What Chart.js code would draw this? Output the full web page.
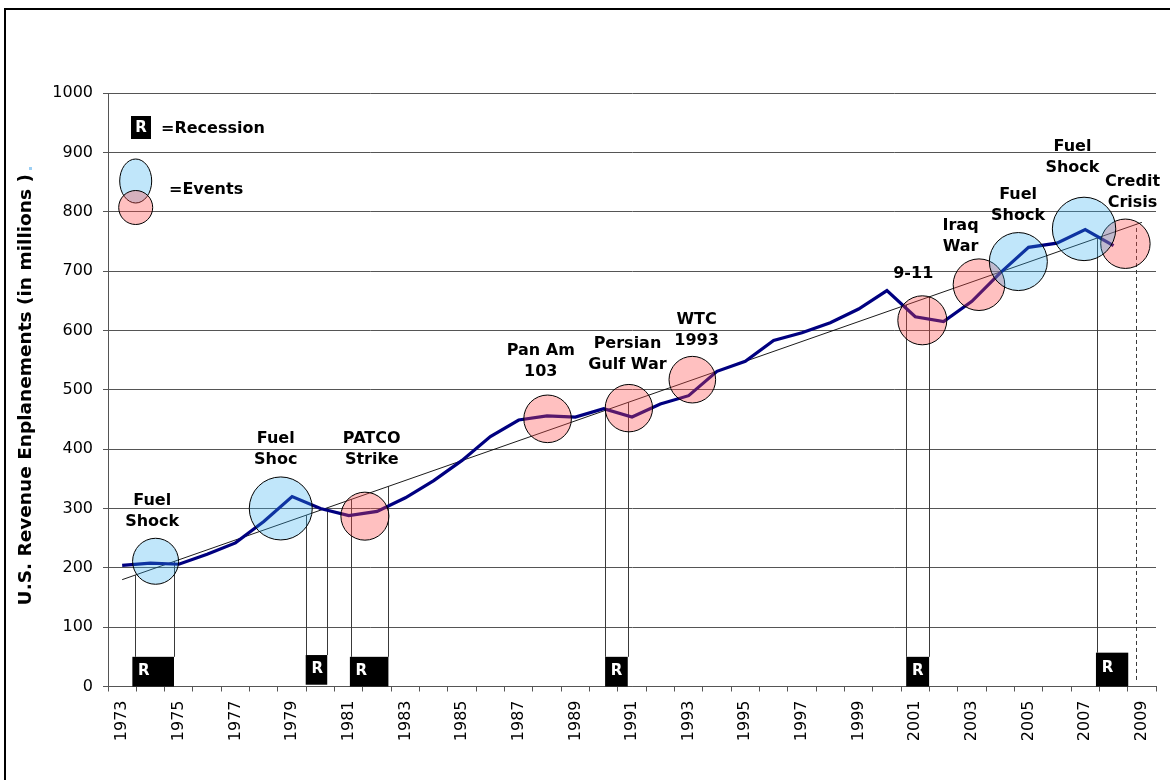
<!DOCTYPE html>
<html><head><meta charset="utf-8">
<script src="https://cdn.jsdelivr.net/npm/chart.js@4.4.1/dist/chart.umd.min.js"></script>
<style>html,body{margin:0;padding:0;background:#fff;overflow:hidden}#wrap{position:relative;width:1170px;height:780px}canvas{display:block}</style>
</head><body><div id="wrap"><canvas id="c" width="1170" height="780" style="width:1170px;height:780px"></canvas></div>
<script>
// ---------------- DATA ----------------
const years = ['1973','1974','1975','1976','1977','1978','1979','1980','1981','1982','1983','1984','1985','1986','1987','1988','1989','1990','1991','1992','1993','1994','1995','1996','1997','1998','1999','2000','2001','2002','2003','2004','2005','2006','2007','2008','2009'];
const enplanements = [204,208,206,223,242,278,320,300,288,295,318,347,381,421,449,456,454,468,454,476,490,531,548,583,596,613,636,667,623,615,649,697,740,747,770,743,null];
const yTicks = [0,100,200,300,400,500,600,700,800,900,1000];
const trendYears = [1973, 2009];
const trendValues = [180, 782];
const eventNames = ['Fuel Shock','Fuel Shoc','PATCO Strike','Pan Am 103','Persian Gulf War','WTC 1993','9-11','Iraq War','Fuel Shock','Fuel Shock','Credit Crisis'];
const eventKinds = ['fuel','fuel','event','event','event','event','event','event','fuel','fuel','event'];
const eventYears = [1974.18, 1978.60, 1981.57, 1988.02, 1990.89, 1993.13, 2001.25, 2003.25, 2004.64, 2006.96, 2008.42];
const eventValues = [211, 300, 287, 451, 469, 517, 617, 677, 716, 771, 746];
const recessionStart = [1973.36, 1979.48, 1981.04, 1990.05, 2000.68, 2007.38];
const recessionEnd   = [1974.83, 1980.24, 1982.40, 1990.85, 2001.49, 2008.52];

// ---------------- STYLE / LAYOUT ----------------
const FONT = '"DejaVu Sans", Verdana, sans-serif';
const BLUE_FILL = 'rgba(45,172,238,0.30)';
const PINK_FILL = 'rgba(255,70,70,0.34)';
const PLOT_RIGHT = 1156;
const eventRadius = [23, 31.5, 24, 23.8, 23.7, 23.3, 24.5, 25.8, 29, 31.7, 24.7];
const eventTextLines = [['Fuel','Shock'],['Fuel','Shoc'],['PATCO','Strike'],['Pan Am','103'],['Persian','Gulf War'],['WTC','1993'],['9-11'],['Iraq','War'],['Fuel','Shock'],['Fuel','Shock'],['Credit','Crisis']];
const eventTextAt = [[1974.06,313],[1978.42,417],[1981.81,417],[1987.78,565],[1990.84,577],[1993.28,617],[2000.93,695],[2002.60,776],[2004.63,829],[2006.55,910],[2008.67,850]];
const recessionBox = [[0,50],[3,53],[0,50],[0,50],[0,50],[0,57]];
const recessionLines = [[1973.44,1974.83],[1979.48,1980.22],[1981.08,1982.38],[1990.05,1990.85],[2000.68,2001.49],[2007.41]];
const dashedLineYear = 2008.78;

const trendAt = yr => trendValues[0] + (yr - trendYears[0]) * (trendValues[1] - trendValues[0]) / (trendYears[1] - trendYears[0]);

const bubbleData = kind => eventYears.map((x, i) => eventKinds[i] === kind ? {x, y: eventValues[i], r: eventRadius[i]} : null).filter(Boolean);

const fixArea = {
  id: 'fixArea',
  afterLayout(chart) {
    chart.chartArea.right = PLOT_RIGHT;
    chart.chartArea.width = PLOT_RIGHT - chart.chartArea.left;
    ['x', 'x2'].forEach(id => {
      const s = chart.scales[id];
      s.right = PLOT_RIGHT; s.width = PLOT_RIGHT - s.left; s.configure();
    });
  }
};

const overlay = {
  id: 'overlay',
  beforeDatasetsDraw(chart) {
    const {ctx} = chart; const x2 = chart.scales.x2, y = chart.scales.y;
    ctx.save();
    ctx.strokeStyle = '#3a3a3a'; ctx.lineWidth = 1;
    recessionLines.forEach((arr, i) => {
      arr.forEach(yr => {
        const px = Math.round(x2.getPixelForValue(yr)) + 0.5;
        ctx.beginPath();
        ctx.moveTo(px, y.getPixelForValue(recessionBox[i][1]));
        ctx.lineTo(px, y.getPixelForValue(trendAt(yr)));
        ctx.stroke();
      });
    });
    ctx.setLineDash([4, 3]);
    const dx = Math.round(x2.getPixelForValue(dashedLineYear)) + 0.5;
    ctx.beginPath();
    ctx.moveTo(dx, y.getPixelForValue(11));
    ctx.lineTo(dx, y.getPixelForValue(trendAt(dashedLineYear)));
    ctx.stroke();
    ctx.setLineDash([]);
    recessionStart.forEach((s, i) => {
      const l = x2.getPixelForValue(s), r = x2.getPixelForValue(recessionEnd[i]);
      const t = y.getPixelForValue(recessionBox[i][1]), b = y.getPixelForValue(recessionBox[i][0]);
      ctx.fillStyle = '#000';
      ctx.fillRect(l, t, r - l, b - t);
      ctx.fillStyle = '#fff';
      ctx.font = 'bold 15px ' + FONT;
      ctx.textAlign = 'center'; ctx.textBaseline = 'middle';
      ctx.fillText('R', l + 11.5, (t + b) / 2 - 1);
    });
    ctx.restore();
  },
  afterDatasetsDraw(chart) {
    const {ctx} = chart; const x2 = chart.scales.x2, y = chart.scales.y;
    ctx.save();
    ctx.fillStyle = '#000';
    ctx.font = 'bold 16px ' + FONT;
    ctx.textAlign = 'center'; ctx.textBaseline = 'middle';
    eventTextLines.forEach((lines, i) => {
      const px = x2.getPixelForValue(eventTextAt[i][0]);
      const py = y.getPixelForValue(eventTextAt[i][1]);
      lines.forEach((t, j) => ctx.fillText(t, px, py + j * 21));
    });
    ctx.restore();
  },
  afterDraw(chart) {
    const {ctx} = chart;
    ctx.save();
    ctx.strokeStyle = '#000'; ctx.lineWidth = 2;
    ctx.strokeRect(5, 9, 1200, 800);
    ctx.fillStyle = '#000';
    ctx.fillRect(131, 116, 20, 23);
    ctx.fillStyle = '#fff'; ctx.font = 'bold 15px ' + FONT;
    ctx.textAlign = 'center'; ctx.textBaseline = 'middle';
    ctx.fillText('R', 141, 128);
    ctx.fillStyle = '#000'; ctx.font = 'bold 16px ' + FONT; ctx.textAlign = 'left';
    ctx.fillText('=Recession', 161, 129);
    ctx.fillText('=Events', 169, 190);
    ctx.lineWidth = 1; ctx.strokeStyle = '#000';
    ctx.beginPath(); ctx.ellipse(135.7, 181, 16, 22, 0, 0, Math.PI * 2);
    ctx.fillStyle = BLUE_FILL; ctx.fill(); ctx.stroke();
    ctx.beginPath(); ctx.arc(135.7, 207.5, 17, 0, Math.PI * 2);
    ctx.fillStyle = PINK_FILL; ctx.fill(); ctx.stroke();
    ctx.fillStyle = '#9ccff4'; ctx.fillRect(29, 167, 3, 3);
    ctx.restore();
  }
};

new Chart(document.getElementById('c'), {
  type: 'line',
  data: {
    labels: years,
    datasets: [
      { type: 'bubble', label: 'Fuel shocks', xAxisID: 'x2', data: bubbleData('fuel'),
        backgroundColor: BLUE_FILL, borderColor: '#000', borderWidth: 1, hoverRadius: 0, order: 0 },
      { type: 'bubble', label: 'Events', xAxisID: 'x2', data: bubbleData('event'),
        backgroundColor: PINK_FILL, borderColor: '#000', borderWidth: 1, hoverRadius: 0, order: 0 },
      { type: 'line', label: 'Enplanements', xAxisID: 'x', data: enplanements,
        borderColor: '#000080', borderWidth: 3.2, pointRadius: 0, tension: 0, fill: false, order: 1 },
      { type: 'line', label: 'Trend', xAxisID: 'x2', data: trendYears.map((x, i) => ({x, y: trendValues[i]})),
        borderColor: '#000', borderWidth: 0.9, pointRadius: 0, tension: 0, fill: false, order: 2 }
    ]
  },
  options: {
    responsive: false, animation: false, events: [],
    layout: { padding: { left: 0, top: 93, right: 14, bottom: 0 } },
    plugins: { legend: { display: false }, tooltip: { enabled: false } },
    scales: {
      x: {
        type: 'category', offset: true,
        grid: { offset: true, drawOnChartArea: false, tickLength: 5, color: '#555' },
        border: { color: '#555', width: 1 },
        ticks: { autoSkip: false, maxRotation: 90, minRotation: 90, padding: 9,
                 color: '#000', font: { family: FONT, size: 16 },
                 callback: (v, i) => i % 2 === 0 ? years[i] : '' },
        afterFit: s => { s.height = 93.5; s.paddingLeft = 0; s.paddingRight = 0; }
      },
      x2: { type: 'linear', display: false, min: 1972.5, max: 2009.5 },
      y: {
        min: 0, max: 1000,
        afterBuildTicks: s => { s.ticks = yTicks.map(v => ({value: v})); },
        grid: { color: '#555', tickLength: 5 },
        border: { color: '#555', width: 1 },
        ticks: { color: '#000', padding: 10, font: { family: FONT, size: 16 }, callback: v => String(v) },
        title: { display: true, text: 'U.S. Revenue Enplanements (in millions )', color: '#000',
                 font: { family: FONT, size: 18.5, weight: 'bold' }, padding: { top: 15.5, bottom: 0 } },
        afterFit: s => { s.width = 108; s.paddingTop = 0; s.paddingBottom = 0; }
      }
    }
  },
  plugins: [fixArea, overlay]
});
</script></body></html>
